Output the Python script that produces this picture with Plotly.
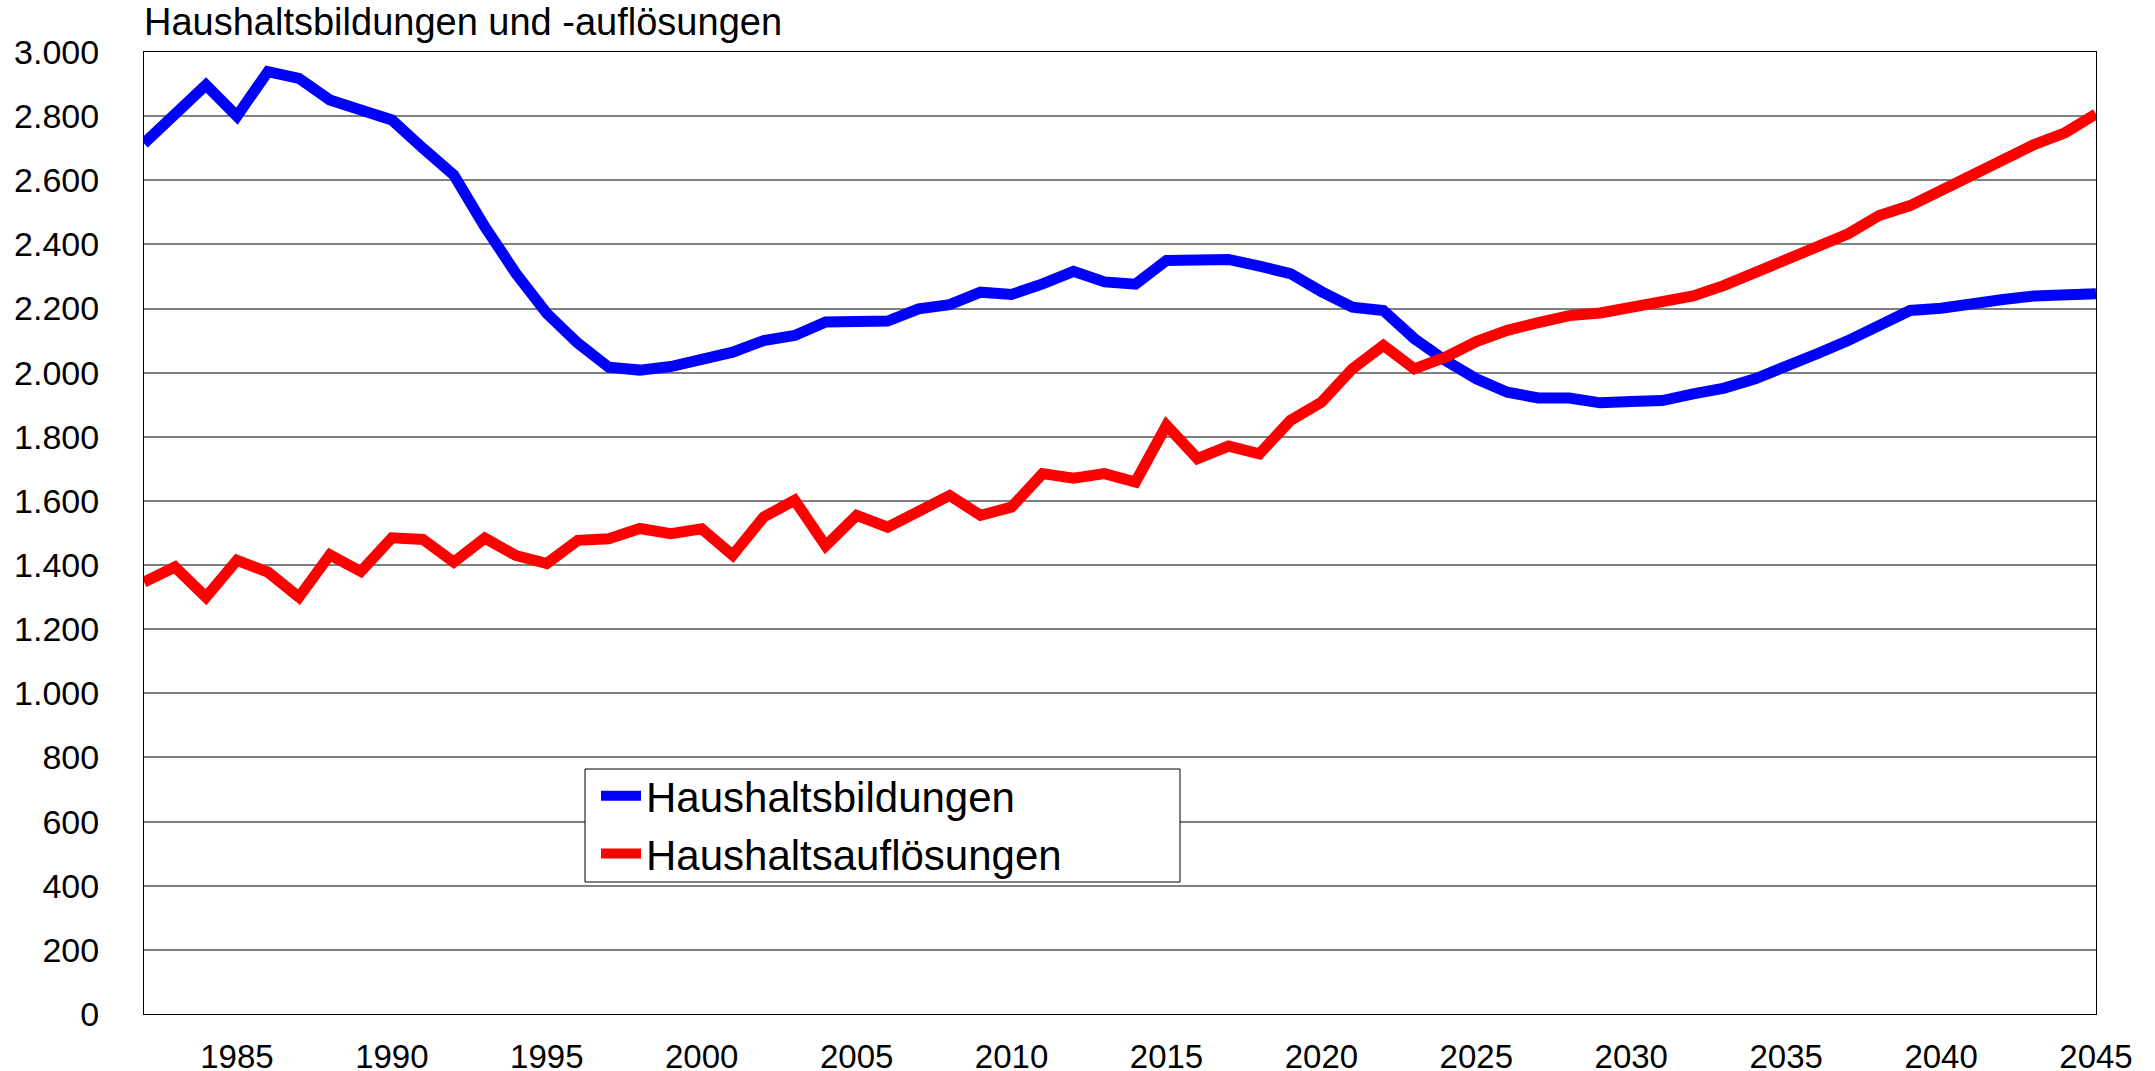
import plotly.graph_objects as go

years = list(range(1982, 2046))

haushaltsbildungen = [
    2715, 2808, 2897, 2800, 2939, 2918, 2850, 2819, 2788, 2700,
    2616, 2455, 2310, 2185, 2092, 2017, 2008, 2019, 2042, 2064,
    2100, 2116, 2158, 2163, 2161, 2199, 2212, 2251, 2244, 2277,
    2316, 2283, 2276, 2350, 2350, 2353, 2332, 2309, 2253, 2204,
    2194, 2106, 2038, 1981, 1939, 1921, 1921, 1906, 1910, 1913,
    1934, 1952, 1981, 2017, 2059, 2100, 2149, 2194, 2201, 2218,
    2228, 2239, 2245, 2246,
]

haushaltsaufloesungen = [
    1347, 1394, 1300, 1415, 1378, 1300, 1432, 1380, 1485, 1480,
    1409, 1484, 1430, 1405, 1477, 1482, 1514, 1498, 1513, 1431,
    1550, 1602, 1460, 1555, 1518, 1565, 1617, 1555, 1581, 1685,
    1671, 1685, 1659, 1836, 1732, 1771, 1747, 1851, 1908, 2012,
    2085, 2012, 2048, 2097, 2132, 2156, 2178, 2186, 2201, 2218,
    2239, 2272, 2314, 2355, 2395, 2433, 2490, 2521, 2568, 2615,
    2656, 2711, 2748, 2807,
]

x_ticks = list(range(1985, 2046, 5))
y_ticks = list(range(0, 3001, 200))

title_text = "Haushaltsbildungen und -auflösungen"
name_b = "Haushaltsbildungen"
name_a = "Haushaltsauflösungen"

FONT = "Liberation Sans, Arial, sans-serif"

W, H = 2155, 1080
L, T = 144, 52
R_EDGE, B_EDGE = 2096, 1014
PW, PH = R_EDGE - L, B_EDGE - T

fig = go.Figure()
fig.add_trace(go.Scatter(x=years, y=haushaltsbildungen, mode="lines", name=name_b,
                         line=dict(color="#0000ff", width=11)))
fig.add_trace(go.Scatter(x=years, y=haushaltsaufloesungen, mode="lines", name=name_a,
                         line=dict(color="#ff0000", width=11)))

# legend frame (position of the box in the reference)
bx0, by0, bx1, by1 = 585, 769, 1180, 882
fig.add_shape(type="rect", xref="paper", yref="paper",
              x0=(bx0 - L) / PW, x1=(bx1 - L) / PW,
              y0=(B_EDGE - by1) / PH, y1=(B_EDGE - by0) / PH,
              line=dict(color="black", width=1), fillcolor="white", layer="above")

fig.update_layout(
    width=W, height=H,
    margin=dict(l=L, r=W - R_EDGE, t=T, b=H - B_EDGE, autoexpand=False),
    paper_bgcolor="white", plot_bgcolor="white",
    separators=",.",
    font=dict(family=FONT, color="black", size=30),
    title=dict(text=title_text, x=L / W, xanchor="left", xref="container",
               y=1 - 8 / H, yanchor="top", yref="container",
               pad=dict(t=0, b=0, l=0, r=0),
               font=dict(family=FONT, size=38, color="black")),
    showlegend=True,
    legend=dict(x=(bx0 + 11 - L) / PW, y=(B_EDGE - (by0 - 7)) / PH, xanchor="left", yanchor="top",
                bgcolor="rgba(0,0,0,0)", borderwidth=0,
                font=dict(family=FONT, size=42, color="black"),
                itemwidth=40, tracegroupgap=0),
    xaxis=dict(range=[1982, 2045], tickmode="array", tickvals=x_ticks,
               ticktext=[str(v) for v in x_ticks], automargin=False,
               showgrid=False, zeroline=False,
               showline=True, linecolor="black", linewidth=1, mirror=True,
               ticks="outside", ticklen=13, tickcolor="rgba(0,0,0,0)",
               tickfont=dict(family=FONT, size=33, color="black")),
    yaxis=dict(range=[0, 3000], tickmode="array", tickvals=y_ticks,
               tickformat=",d", automargin=False,
               showgrid=True, gridcolor="#808080", gridwidth=1.5, zeroline=False,
               showline=True, linecolor="black", linewidth=1, mirror=True,
               ticks="outside", ticklen=37, tickcolor="rgba(0,0,0,0)",
               tickfont=dict(family=FONT, size=34, color="black")),
)

fig.write_html("out.html",
               config={"displayModeBar": False},
               post_script="document.body.style.margin='0px'; document.body.style.overflow='hidden';")
